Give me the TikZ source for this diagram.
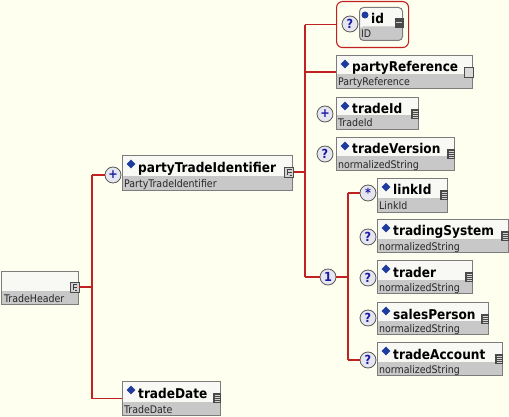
\documentclass[tikz,border=0pt]{standalone}
\usepackage{fontspec}
\newfontfamily\condfont{DejaVu Sans Condensed}
\usetikzlibrary{calc,shapes.geometric}
\definecolor{bgc}{HTML}{FFFFF0}
\definecolor{redc}{HTML}{C02222}
\definecolor{bandc}{HTML}{C8C8C8}
\definecolor{topc}{HTML}{F8F8F4}
\definecolor{borderc}{HTML}{7C7C7C}
\definecolor{diac}{HTML}{1E3C9E}
\definecolor{cardtxt}{HTML}{1A1AA6}
\definecolor{cardfill}{HTML}{E6E6F0}
\definecolor{icondark}{HTML}{4A4A4A}
\tikzset{
  elbox/.style={draw=borderc, line width=1pt, fill=topc, inner sep=0pt, anchor=north west,
    path picture={\fill[bandc] ($(path picture bounding box.south west)+(0,-14)$) rectangle (path picture bounding box.south east);}},
  redframe/.style={draw=redc, line width=1.1pt, rounded corners=6pt, inner sep=0pt, anchor=north west},
  conn/.style={draw=redc, line width=1.1pt},
  card/.style={circle, draw=black!65, fill=cardfill, line width=0.8pt, minimum size=16pt, inner sep=0pt,
    text=cardtxt, font=\condfont\bfseries\fontsize{12.5}{12.5}\selectfont},
  titletxt/.style={anchor=base west, inner sep=0pt, font=\condfont\bfseries\fontsize{13.5}{14}\selectfont},
  typetxt/.style={anchor=base west, inner sep=0pt, text=black!85, font=\condfont\fontsize{10.5}{10.5}\selectfont},
  dia/.style={diamond, fill=diac, inner sep=0pt, minimum size=9pt},
  simpicon/.style={fill=icondark, minimum width=8pt, minimum height=10pt, inner sep=0pt,
    path picture={\foreach \k in {2.5,4.5,6.5,8.5}{\draw[gray!35, line width=0.8pt] ($(path picture bounding box.north west)+(1.5,\k)$) -- ++(5,0);}}},
  seqicon/.style={fill=gray!35, draw=black!70, line width=0.7pt, minimum width=9pt, minimum height=10pt, inner sep=0pt,
    path picture={\draw[black!75, line width=0.7pt]
      ($(path picture bounding box.north west)+(3,2)$) -- ++(0,6)
      ($(path picture bounding box.north west)+(3,5)$) -- ++(4,0)
      ($(path picture bounding box.north west)+(3,2)$) -- ++(4,0)
      ($(path picture bounding box.north west)+(5,8)$) -- ++(2,0);}},
  emptyicon/.style={fill=gray!30, draw=black!70, line width=0.7pt, minimum width=9pt, minimum height=10pt, inner sep=0pt},
  idicon/.style={fill=icondark, minimum width=9pt, minimum height=10pt, inner sep=0pt,
    path picture={\draw[gray!40, line width=1pt] ($(path picture bounding box.north west)+(1.5,5)$) -- ++(6,0);}},
}
\newcommand\xsdelem[8]{%
  \node[elbox, minimum width=#4pt, minimum height=#5pt] (#1) at (#2,#3) {};
  \node[dia] (#1-d) at ($(#1.north west)+(9,9)$) {};
  \node[titletxt] (#1-t) at ($(#1.north west)+(16,17)$) {#6};
  \node[typetxt] (#1-y) at ($(#1.south west)+(2,-3)$) {#7};
  \node[#8] (#1-i) at ($(#1.north east)+(-4,17)$) {};
}
\begin{document}
\begin{tikzpicture}[x=1pt,y=-1pt]
\fill[bgc] (0,0) rectangle (509,417);
\useasboundingbox (0,0) rectangle (509,417);
% bus coordinates
\coordinate (b1) at (92,0);
\coordinate (b2) at (305,0);
\coordinate (b3) at (348,0);
% TradeHeader
\node[elbox, minimum width=77pt, minimum height=33pt] (th) at (1,271) {};
\node[typetxt] (th-y) at ($(th.south west)+(3,-3)$) {TradeHeader};
\node[seqicon] (th-i) at ($(th.north east)+(-4.5,16)$) {};
% first level
\node[card] (c-pti) at (113,175) {+};
\xsdelem{pti}{122}{155}{170}{35}{partyTradeIdentifier}{PartyTradeIdentifier}{seqicon}
\xsdelem{td}{122}{381}{98}{34}{tradeDate}{TradeDate}{simpicon}
% id attribute group
\node[redframe, minimum width=72pt, minimum height=46pt] (rb) at (336,1) {};
\node[card] (c-id) at (350,24) {?};
\node[elbox, rounded corners=4pt, minimum width=43pt, minimum height=33pt] (id) at (359,7) {};
\node[circle, fill=diac, minimum size=7pt, inner sep=0pt] (id-d) at ($(id.north west)+(6,8)$) {};
\node[titletxt] (id-t) at ($(id.north west)+(12,17)$) {id};
\node[typetxt] (id-y) at ($(id.south west)+(2,-3)$) {ID};
\node[idicon] (id-i) at ($(id.north east)+(-4,16)$) {};
% sequence children
\xsdelem{pr}{336}{55}{136}{33}{partyReference}{PartyReference}{emptyicon}
\node[card] (c-tid) at (325,114) {+};
\xsdelem{tid}{336}{97}{82}{32}{tradeId}{TradeId}{simpicon}
\node[card] (c-tv) at (325,154) {?};
\xsdelem{tv}{336}{137}{118}{33}{tradeVersion}{normalizedString}{simpicon}
\node[card] (c-ch) at (328,277) {1};
% choice children
\node[card] (c-li) at (368,193) {*};
\xsdelem{li}{377}{178}{70}{34}{linkId}{LinkId}{simpicon}
\node[card] (c-ts) at (368,237) {?};
\xsdelem{ts}{377}{219}{131}{33}{tradingSystem}{normalizedString}{simpicon}
\node[card] (c-tr) at (368,278) {?};
\xsdelem{tr}{377}{260}{95}{33}{trader}{normalizedString}{simpicon}
\node[card] (c-sp) at (368,318) {?};
\xsdelem{sp}{377}{302}{111}{32}{salesPerson}{normalizedString}{simpicon}
\node[card] (c-ta) at (368,360) {?};
\xsdelem{ta}{377}{342}{125}{33}{tradeAccount}{normalizedString}{simpicon}
% connectors
\draw[conn] (th-i.east) -- (th-i.east -| b1);
\draw[conn] (c-pti.west -| b1) -- (td.west -| b1);
\draw[conn] (c-pti.west -| b1) -- (c-pti.west);
\draw[conn] (td.west -| b1) -- (td.west);
\draw[conn] (pti-i.east) -- (pti-i.east -| b2);
\draw[conn] (rb.west -| b2) -- (c-ch.west -| b2);
\draw[conn] (rb.west -| b2) -- (rb.west);
\draw[conn] (pr.west -| b2) -- (pr.west);
\draw[conn] (c-ch.west -| b2) -- (c-ch.west);
\draw[conn] (c-ch.east) -- (c-ch.east -| b3);
\draw[conn] (c-li.west -| b3) -- (c-ta.west -| b3);
\draw[conn] (c-li.west -| b3) -- (c-li.west);
\draw[conn] (c-ta.west -| b3) -- (c-ta.west);
\end{tikzpicture}
\end{document}
